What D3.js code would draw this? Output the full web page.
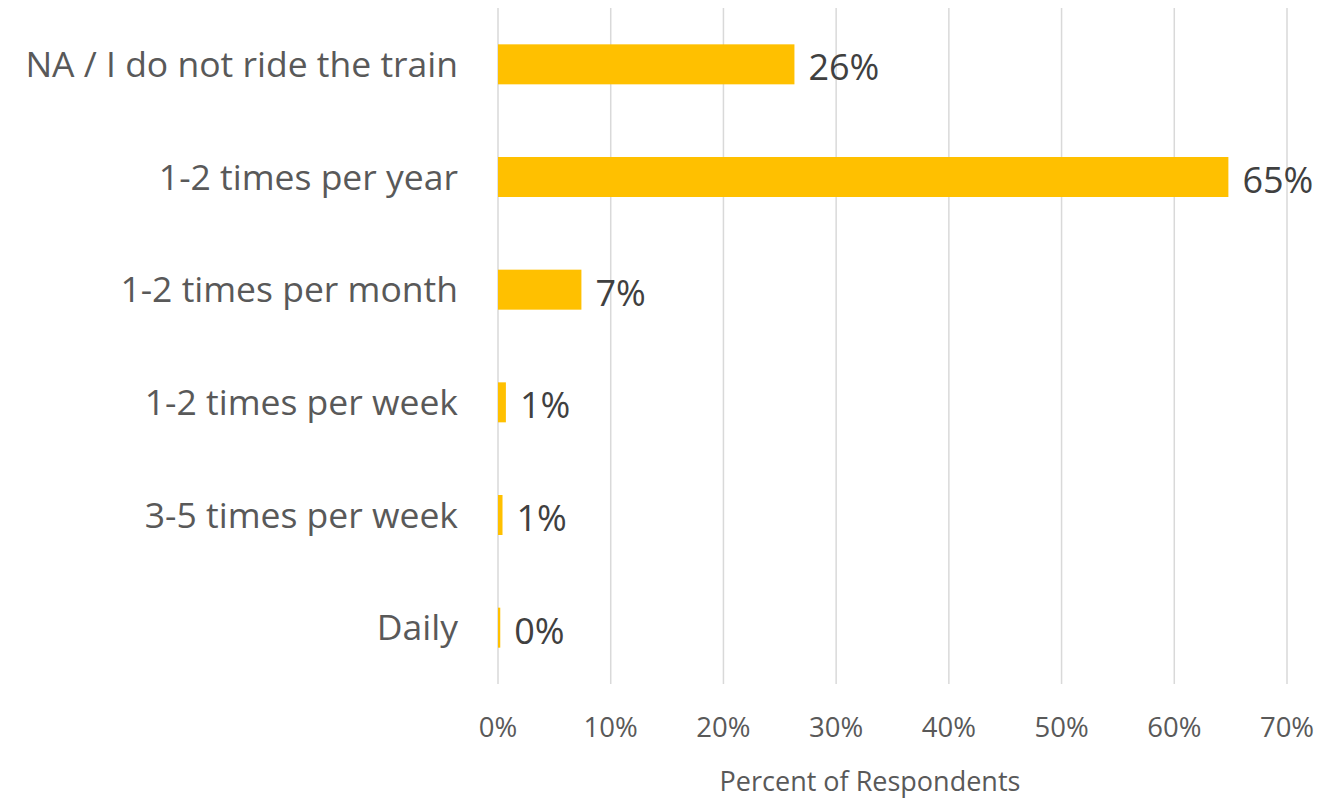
<!DOCTYPE html>
<html><head><meta charset="utf-8">
<script src="https://cdn.jsdelivr.net/npm/d3@7"></script>
<style>body{margin:0;background:#fff}svg{display:block}text{font-family:"Open Sans","Noto Sans",sans-serif}</style>
</head><body>
<svg id="c" width="1325" height="799"></svg>
<script>
const categories = ["NA / I do not ride the train","1-2 times per year","1-2 times per month","1-2 times per week","3-5 times per week","Daily"];
const values = [26.3, 64.8, 7.4, 0.7, 0.4, 0.2];
const labels = ["26%","65%","7%","1%","1%","0%"];
const ticks = [0,10,20,30,40,50,60,70];
const tickLabels = ["0%","10%","20%","30%","40%","50%","60%","70%"];

const svg = d3.select("#c");
const x = d3.scaleLinear().domain([0,70]).range([498,1287]);
const y = d3.scaleBand().domain(categories).range([8,684]).paddingInner(0.645).paddingOuter(0.3225);

svg.append("g").selectAll("line").data(ticks).join("line")
  .attr("x1",d=>x(d)).attr("x2",d=>x(d)).attr("y1",8).attr("y2",684)
  .attr("stroke","#d9d9d9").attr("stroke-width",1.5);

svg.append("g").selectAll("rect").data(values).join("rect")
  .attr("x",x(0)).attr("y",(d,i)=>y(categories[i]))
  .attr("width",d=>x(d)-x(0)).attr("height",y.bandwidth())
  .attr("fill","#ffc000");

svg.append("g").selectAll("text").data(values).join("text")
  .attr("x",d=>x(d)+14).attr("y",(d,i)=>y(categories[i])+y.bandwidth()/2)
  .attr("dy","0.44em").attr("font-size",36).attr("fill","#404040")
  .text((d,i)=>labels[i]);

svg.append("g").selectAll("text").data(categories).join("text")
  .attr("x",458).attr("y",d=>y(d)+y.bandwidth()/2).attr("dy","0.36em")
  .attr("text-anchor","end").attr("font-size",35.5).attr("fill","#595959")
  .text(d=>d);

svg.append("g").selectAll("text").data(ticks).join("text")
  .attr("x",d=>x(d)).attr("y",727).attr("dy","0.36em")
  .attr("text-anchor","middle").attr("font-size",27.5).attr("fill","#595959")
  .text((d,i)=>tickLabels[i]);

svg.append("text").attr("x",870).attr("y",781).attr("dy","0.36em")
  .attr("text-anchor","middle").attr("font-size",27).attr("fill","#595959")
  .text("Percent of Respondents");
</script>
</body></html>
